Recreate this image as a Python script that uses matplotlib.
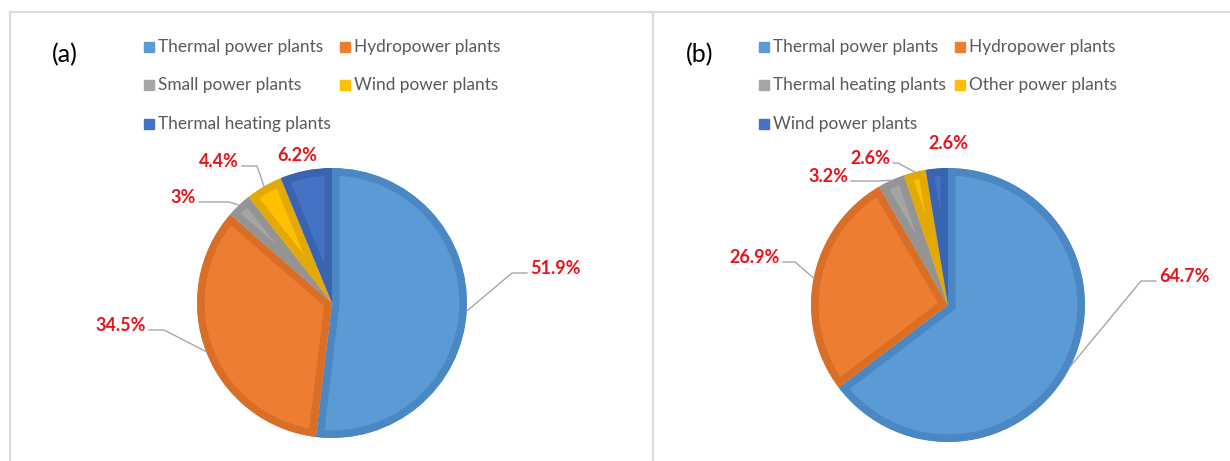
import matplotlib
matplotlib.use("Agg")
import matplotlib.pyplot as plt
import numpy as np
from matplotlib.patches import Rectangle

W, H = 1230, 461

# data
labels_a = ["Thermal power plants", "Hydropower plants", "Small power plants",
            "Wind power plants", "Thermal heating plants"]
values_a = [51.9, 34.5, 3.0, 4.4, 6.2]
pct_a = ["51.9%", "34.5%", "3%", "4.4%", "6.2%"]

labels_b = ["Thermal power plants", "Hydropower plants", "Thermal heating plants",
            "Other power plants", "Wind power plants"]
values_b = [64.7, 26.9, 3.2, 2.6, 2.6]
pct_b = ["64.7%", "26.9%", "3.2%", "2.6%", "2.6%"]

fill_cols = ["#5B9BD5", "#ED7D31", "#A5A5A5", "#FFC000", "#4472C4"]
edge_cols = ["#4A87C3", "#D96F27", "#949494", "#E3AA05", "#3A64B2"]

plt.rcParams['font.family'] = ['Lato', 'DejaVu Sans']

fig = plt.figure(figsize=(W / 100, H / 100), dpi=100)
fig.patch.set_facecolor("white")


def to_fig(x, y, w=0, h=0):
    return [x / W, 1 - (y + h) / H, w / W, h / H]


def draw_pie(cx, cy, r, values):
    ax = fig.add_axes(to_fig(cx - r, cy - r, 2 * r, 2 * r))
    wedges, _ = ax.pie(values, colors=fill_cols, startangle=90, counterclock=False,
                       radius=1)
    for w, ec in zip(wedges, edge_cols):
        w.set_edgecolor(ec)
        w.set_linewidth(11)
        w.set_joinstyle("miter")
        w.set_clip_on(True)
        w.set_clip_path(w)
    ax.set_xlim(-1, 1)
    ax.set_ylim(-1, 1)
    ax.set_aspect("equal")
    ax.axis("off")
    # mid angle of each wedge in pixel space
    mids = []
    for w in wedges:
        a = np.deg2rad((w.theta1 + w.theta2) / 2)
        mids.append((cx + r * np.cos(a), cy - r * np.sin(a)))
    return mids


# overlay in pixel coords
ov = fig.add_axes([0, 0, 1, 1], zorder=5)
ov.set_xlim(0, W)
ov.set_ylim(H, 0)
ov.axis("off")

# panel frame
frame_col = "#DCDCDC"
ov.plot([10, W], [12, 12], color=frame_col, lw=1.6)
ov.plot([10, 10], [12, H], color=frame_col, lw=1.6)
ov.plot([653, 653], [12, H], color=frame_col, lw=1.6)


def draw_legend(x1, x2, labels):
    rows = [47, 85, 124]
    for i, lab in enumerate(labels):
        x = x1 if i % 2 == 0 else x2
        y = rows[i // 2]
        ov.add_patch(Rectangle((x, y - 5), 10, 10, color=fill_cols[i]))
        ov.text(x + 14, y, lab, fontsize=12.4, color="#595959", va="center", ha="left")


red = "#E8141C"
lead = "#A6A6A6"


def draw_labels(mids, pct, texts):
    # texts: (x, y, ha, elbow_x or None)
    for (px, py), s, (tx, ty, ha, ex) in zip(mids, pct, texts):
        ov.text(tx, ty, s, fontsize=13, fontweight="bold", color=red,
                ha=ha, va="center")
        if ex is None:
            continue
        sx = tx + 3 if ha == "right" else tx - 3
        ly = ty + 5
        ov.plot([sx, ex, px], [ly, ly, py], color=lead, lw=1)


# panel (a)
ov.text(52, 55, "(a)", fontsize=18, color="black", va="center", ha="left")
draw_legend(144, 340, labels_a)
mids_a = draw_pie(332, 303, 135, values_a)
draw_labels(mids_a, pct_a, [
    (530, 268, "left", 512),
    (146, 325, "right", 164),
    (196, 197, "right", 229),
    (239, 161, "right", 257),
    (297, 155, "center", None),
])

# panel (b)
ov.text(686, 55, "(b)", fontsize=18, color="black", va="center", ha="left")
draw_legend(759, 955, labels_b)
mids_b = draw_pie(948, 305, 137, values_b)
draw_labels(mids_b, pct_b, [
    (1159, 276, "left", 1141),
    (780, 257, "right", 795),
    (848, 176, "right", 877),
    (890, 158, "right", 898),
    (948, 143, "center", None),
])

fig.savefig("out.png", dpi=100)
